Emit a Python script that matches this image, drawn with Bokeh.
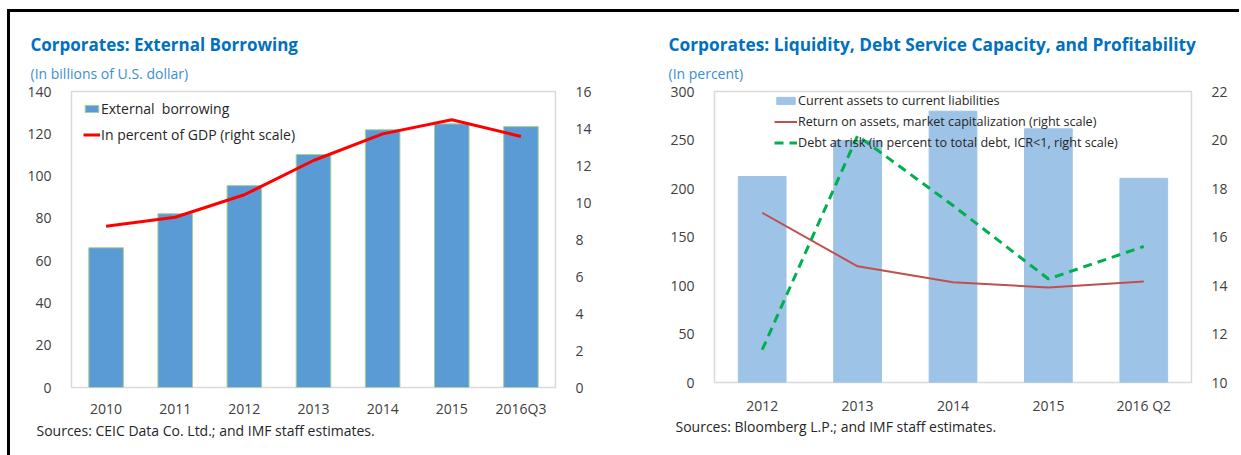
from bokeh.plotting import figure
from bokeh.models import (Range1d, FactorRange, LinearAxis, FixedTicker, Legend,
                          LegendItem, Title, ColumnDataSource, Spacer)
from bokeh.layouts import row, column
from bokeh.embed import file_html
from bokeh.resources import INLINE

# ---------------- data ----------------
years_left = ["2010", "2011", "2012", "2013", "2014", "2015", "2016Q3"]
external_borrowing = [66.1, 82.2, 95.5, 110.2, 121.9, 124.7, 123.4]
pct_gdp = [8.72, 9.2, 10.42, 12.27, 13.71, 14.47, 13.57]
left_ticks = [0, 20, 40, 60, 80, 100, 120, 140]
left_right_ticks = [0, 2, 4, 6, 8, 10, 12, 14, 16]

years_right = ["2012", "2013", "2014", "2015", "2016 Q2"]
current_ratio = [212.3, 249.4, 279.7, 261.5, 210.5]
roa = [17.0, 14.79, 14.13, 13.92, 14.16]
debt_at_risk = [11.35, 20.18, 17.3, 14.27, 15.61]
right_ticks = [0, 50, 100, 150, 200, 250, 300]
right_right_ticks = [10, 12, 14, 16, 18, 20, 22]

FONT = "Open Sans"
TITLE_C = "#0070C0"
SUB_C = "#3A8FD0"
TICK_C = "#404040"
TEXT_C = "#262626"
TOTAL_H = 443


def style_axis(ax, ticks=None, standoff=14):
    if ticks is not None:
        ax.ticker = FixedTicker(ticks=ticks)
    ax.axis_line_color = None
    ax.major_tick_line_color = None
    ax.minor_tick_line_color = None
    ax.major_label_text_font = FONT
    ax.major_label_text_font_size = "14px"
    ax.major_label_text_color = TICK_C
    ax.major_label_standoff = standoff


def base_fig(factors, ymax, yr, frame_w, frame_h, minl, minr):
    top = 79
    p = figure(x_range=FactorRange(factors=factors, range_padding=0),
               y_range=Range1d(0, ymax), frame_width=frame_w, frame_height=frame_h,
               min_border_left=minl, min_border_right=minr, min_border_top=top,
               min_border_bottom=TOTAL_H - top - frame_h, toolbar_location=None,
               output_backend="svg", tools="", title=None)
    p.extra_y_ranges = {"right": Range1d(*yr)}
    p.xgrid.grid_line_color = None
    p.ygrid.grid_line_color = None
    p.outline_line_color = "#D9D9D9"
    p.outline_line_width = 1.5
    p.background_fill_color = "white"
    p.border_fill_color = "white"
    return p


def add_titles(p, title, subtitle, source, off_title, off_source, title_size, src_standoff):
    # first title added "above" sits closest to the frame
    p.add_layout(Title(text=subtitle, align="left", offset=off_title, standoff=17,
                       text_font=FONT, text_font_size="14px", text_color=SUB_C,
                       text_font_style="normal"), "above")
    p.add_layout(Title(text=title, align="left", offset=off_title, standoff=-4,
                       text_font=FONT, text_font_size=title_size, text_color=TITLE_C,
                       text_font_style="bold"), "above")
    p.add_layout(Title(text=source, align="left", offset=off_source, standoff=src_standoff,
                       text_font=FONT, text_font_size="14px", text_color=TEXT_C,
                       text_font_style="normal"), "below")


# ---------------- left chart ----------------
p1 = base_fig(years_left, 140, (0, 16), 484, 296, 61, 65)
src1 = ColumnDataSource(dict(x=years_left, y=external_borrowing, r=pct_gdp))
bars1 = p1.vbar(x="x", top="y", width=0.5, source=src1, fill_color="#5B9BD5",
                line_color="#A9D18E", line_width=1)
line1 = p1.line(x="x", y="r", source=src1, y_range_name="right", line_color="#FF0000",
                line_width=3)
style_axis(p1.xaxis[0], standoff=5)
style_axis(p1.yaxis[0], left_ticks)
ax1r = LinearAxis(y_range_name="right")
style_axis(ax1r, left_right_ticks)
p1.add_layout(ax1r, "right")

leg1 = Legend(items=[LegendItem(label="External  borrowing", renderers=[bars1]),
                     LegendItem(label="In percent of GDP (right scale)", renderers=[line1])],
              location=(12, 243), padding=0, margin=0, spacing=7,
              glyph_width=17, glyph_height=9, label_height=9, label_standoff=1,
              label_text_font=FONT, label_text_font_size="14px",
              label_text_color=TEXT_C, border_line_alpha=0,
              background_fill_alpha=0)
p1.add_layout(leg1)

add_titles(p1, "Corporates: External Borrowing", "(In billions of U.S. dollar)",
           "Sources: CEIC Data Co. Ltd.; and IMF staff estimates.", -41, -35, "17px", -3)

# ---------------- right chart ----------------
p2 = base_fig(years_right, 300, (10, 22), 477, 291, 94, 48)
src2 = ColumnDataSource(dict(x=years_right, y=current_ratio, roa=roa, dar=debt_at_risk))
bars2 = p2.vbar(x="x", top="y", width=0.5, source=src2, fill_color="#9DC3E6",
                line_color="#9DC3E6")
line2 = p2.line(x="x", y="roa", source=src2, y_range_name="right", line_color="#C0504D",
                line_width=2)
line3 = p2.line(x="x", y="dar", source=src2, y_range_name="right", line_color="#00B050",
                line_width=3, line_dash="9 6")
style_axis(p2.xaxis[0], standoff=7)
style_axis(p2.yaxis[0], right_ticks)
ax2r = LinearAxis(y_range_name="right")
style_axis(ax2r, right_right_ticks)
p2.add_layout(ax2r, "right")

leg2 = Legend(items=[LegendItem(label="Current assets to current liabilities", renderers=[bars2]),
                     LegendItem(label="Return on assets, market capitalization (right scale)", renderers=[line2]),
                     LegendItem(label="Debt at risk (in percent to total debt, ICR<1, right scale)", renderers=[line3])],
              location=(60, 231), padding=0, margin=0, spacing=4,
              glyph_width=23, glyph_height=9, label_height=9, label_standoff=1,
              label_text_font=FONT, label_text_font_size="12.6px",
              label_text_color=TEXT_C, border_line_alpha=0,
              background_fill_alpha=0)
p2.add_layout(leg2)

add_titles(p2, "Corporates: Liquidity, Debt Service Capacity, and Profitability",
           "(In percent)", "Sources: Bloomberg L.P.; and IMF staff estimates.", -46, -39,
           "17.3px", -5)

inner = row(p1, p2, styles={"border-top": "3px solid black", "border-left": "3px solid black"})
layout = column(Spacer(height=9), row(Spacer(width=7), inner))
open("out.html", "w").write(file_html(layout, INLINE))
